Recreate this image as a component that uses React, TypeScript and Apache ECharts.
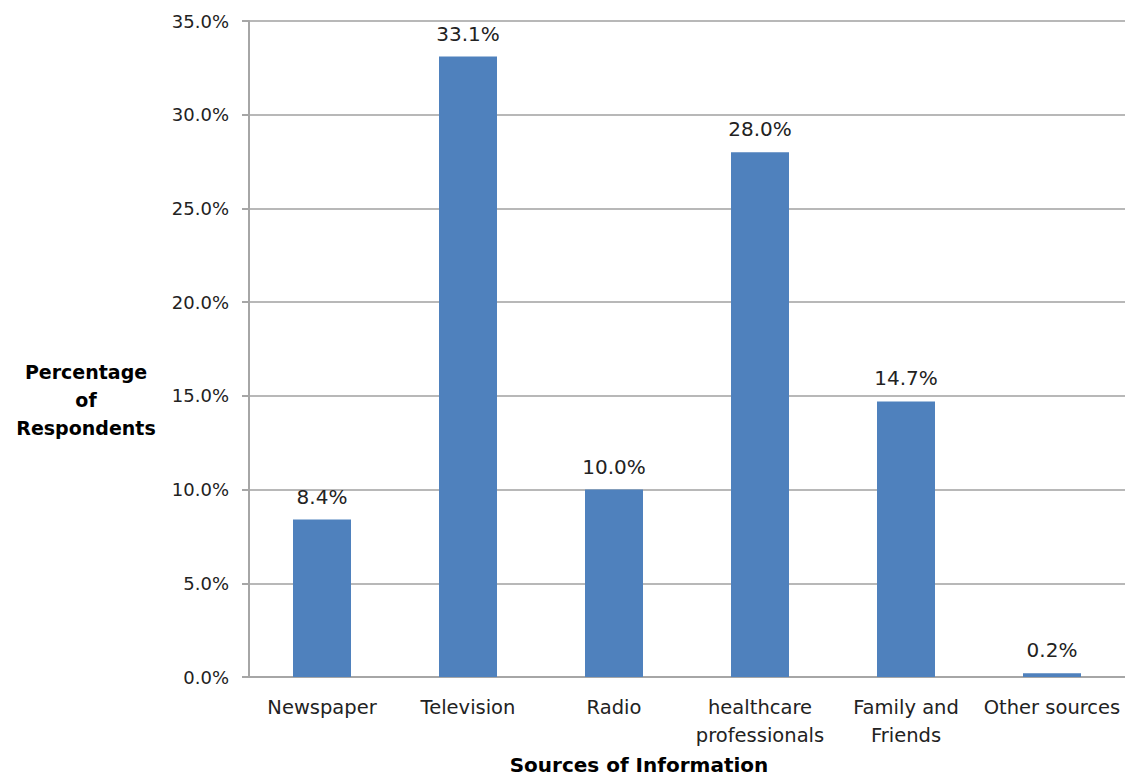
import React, { useEffect, useRef } from "react";
import * as echarts from "echarts";

const categories = ["Newspaper", "Television", "Radio", "healthcare\nprofessionals", "Family and\nFriends", "Other sources"];
const values = [8.4, 33.1, 10.0, 28.0, 14.7, 0.2];
const yTicks = { min: 0, max: 35, interval: 5 };

const FONT = "DejaVu Sans, Verdana, sans-serif";

export default function App() {
  const ref = useRef<HTMLDivElement>(null);
  useEffect(() => {
    const chart = echarts.init(ref.current!, null, { renderer: "svg" });
    chart.setOption({
      animation: false,
      backgroundColor: "#ffffff",
      grid: { left: 249, right: 0, top: 21, bottom: 102, containLabel: false },
      xAxis: {
        type: "category",
        data: categories,
        axisLine: { lineStyle: { color: "#a6a6a6", width: 2 } },
        axisTick: { show: false },
        axisLabel: { color: "#222", fontFamily: FONT, fontSize: 19.5, lineHeight: 28, margin: 16, interval: 0 },
      },
      yAxis: {
        type: "value",
        min: yTicks.min,
        max: yTicks.max,
        interval: yTicks.interval,
        axisLine: { show: true, lineStyle: { color: "#a6a6a6", width: 2 } },
        axisTick: { show: true, length: 7, lineStyle: { color: "#a6a6a6", width: 2 } },
        splitLine: { lineStyle: { color: "#b8b8b8", width: 2 } },
        axisLabel: {
          color: "#222",
          fontFamily: FONT,
          fontSize: 18,
          margin: 20,
          formatter: (v: number) => v.toFixed(1) + "%",
        },
      },
      series: [
        {
          type: "bar",
          data: values,
          barWidth: 58,
          itemStyle: { color: "#4f81bd" },
          label: {
            show: true,
            position: "top",
            distance: 13,
            color: "#222",
            fontFamily: FONT,
            fontSize: 20,
            formatter: (p: any) => p.value.toFixed(1) + "%",
          },
        },
      ],
      graphic: [
        {
          type: "text",
          x: 86,
          y: 358,
          style: {
            text: "Percentage\nof\nRespondents",
            fontFamily: FONT,
            fontSize: 19,
            fontWeight: "bold",
            fill: "#000",
            lineHeight: 28,
            align: "center",
            verticalAlign: "top",
          },
        },
        {
          type: "text",
          x: 639,
          y: 765,
          style: {
            text: "Sources of Information",
            fontFamily: FONT,
            fontSize: 20,
            fontWeight: "bold",
            fill: "#000",
            align: "center",
            verticalAlign: "middle",
          },
        },
      ],
    });
    return () => chart.dispose();
  }, []);
  return <div ref={ref} style={{ position: "fixed", left: 0, top: 0, width: 1125, height: 779 }} />;
}
